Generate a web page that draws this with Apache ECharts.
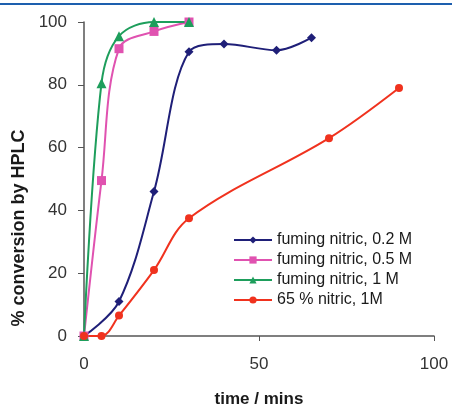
<!DOCTYPE html>
<html>
<head>
<meta charset="utf-8">
<script src="https://cdn.jsdelivr.net/npm/echarts@6/dist/echarts.min.js"></script>
<style>html,body{margin:0;padding:0;background:#fff}#main{width:452px;height:405px}</style>
</head>
<body>
<div id="main"></div>
<script>
// data: [time (mins), % conversion]
var fuming02 = [[0, 0], [10, 11], [20, 46], [30, 90.5], [40, 93], [55, 91], [65, 95]];
var fuming05 = [[0, 0], [5, 49.5], [10, 91.5], [20, 97], [30, 100]];
var fuming1 = [[0, 0], [5, 80.5], [10, 95.5], [20, 100], [30, 100]];
var nitric65 = [[0, 0], [5, 0], [10, 6.5], [20, 21], [30, 37.5], [70, 63], [90, 79]];
var names = ['fuming nitric, 0.2 M', 'fuming nitric, 0.5 M', 'fuming nitric, 1 M', '65 % nitric, 1M'];

var myChart = echarts.init(document.getElementById('main'));

function line(name, data, color, symbol, size) {
    return {
        name: name,
        type: 'line',
        data: data,
        smooth: 0.35,
        color: color,
        symbol: symbol,
        symbolSize: size,
        lineStyle: { width: 2, color: color },
        itemStyle: { color: color }
    };
}

var option = {
    backgroundColor: '#fff',
    animation: false,
    grid: { left: 84, right: 18, top: 22, bottom: 69, outerBoundsMode: 'none' },
    legend: {
        orient: 'vertical',
        left: 228,
        top: 227,
        itemWidth: 38,
        itemHeight: 9,
        itemGap: 4,
        textStyle: { fontFamily: 'Liberation Sans', fontSize: 16, color: '#1a1a1a' },
        data: names
    },
    xAxis: {
        type: 'value',
        min: 0, max: 100, interval: 50,
        name: 'time / mins',
        nameLocation: 'middle',
        nameGap: 55,
        nameTextStyle: { fontFamily: 'Liberation Sans', fontSize: 17, fontWeight: 'bold', color: '#1a1a1a' },
        splitLine: { show: false },
        axisLine: { lineStyle: { color: '#555', width: 1.5 } },
        axisTick: { length: 5, lineStyle: { color: '#555' } },
        axisLabel: { fontFamily: 'Liberation Sans', fontSize: 17, color: '#333', margin: 20 }
    },
    yAxis: {
        type: 'value',
        min: 0, max: 100, interval: 20,
        splitLine: { show: false },
        axisLine: { show: true, lineStyle: { color: '#555', width: 1.5 } },
        axisTick: { show: true, length: 6, lineStyle: { color: '#555' } },
        axisLabel: { fontFamily: 'Liberation Sans', fontSize: 17, color: '#333', margin: 17 }
    },
    graphic: [
        { type: 'rect', shape: { x: 0, y: 3, width: 452, height: 2 }, style: { fill: '#1d5fae' } },
        {
            type: 'text', x: 19, y: 228, rotation: Math.PI / 2,
            style: {
                text: '% conversion by HPLC', fontFamily: 'Liberation Sans', fontSize: 18,
                fontWeight: 'bold', fill: '#1a1a1a', align: 'center', verticalAlign: 'middle'
            }
        }
    ],
    series: [
        line(names[0], fuming02, '#1f1f78', 'diamond', 9),
        line(names[1], fuming05, '#e052b0', 'rect', 9),
        line(names[2], fuming1, '#1e9e5c', 'triangle', 10),
        line(names[3], nitric65, '#f0321e', 'circle', 8)
    ]
};

myChart.setOption(option);
</script>
</body>
</html>
